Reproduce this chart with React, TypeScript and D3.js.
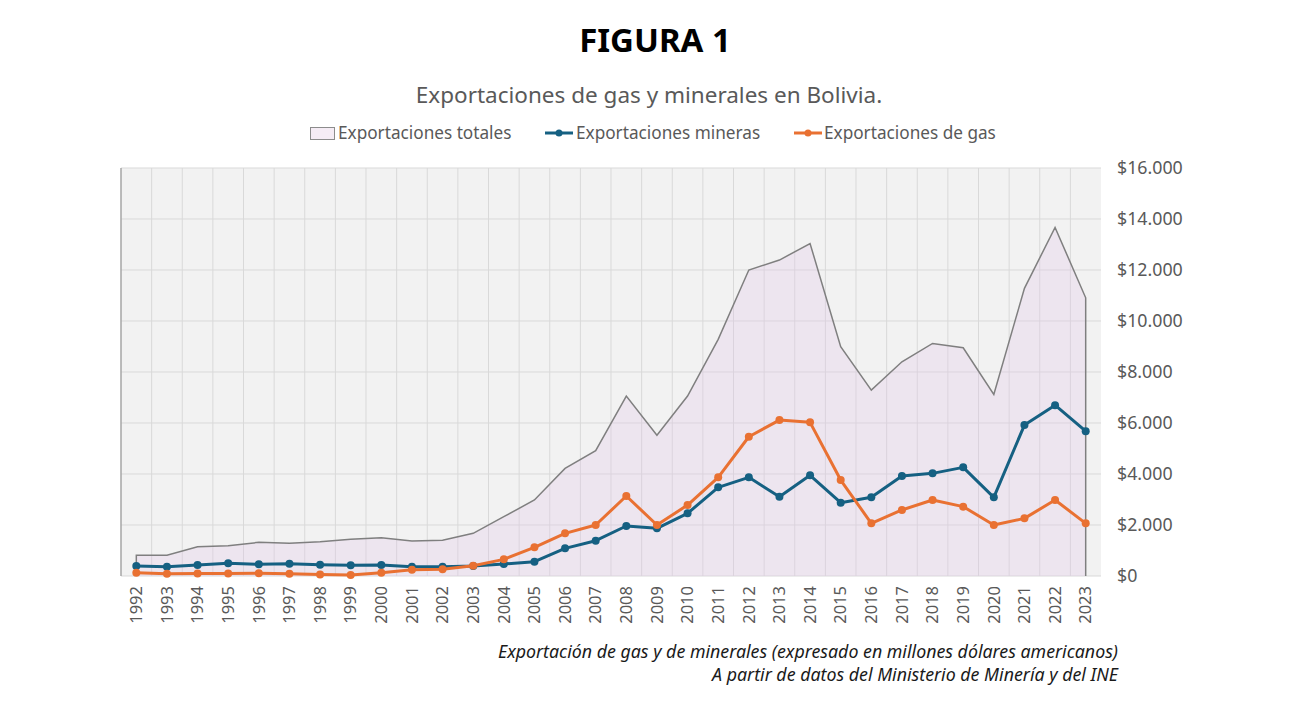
import React from "react";
import * as d3 from "d3";

const years: string[] = [
  "1992","1993","1994","1995","1996","1997","1998","1999","2000","2001","2002","2003",
  "2004","2005","2006","2007","2008","2009","2010","2011","2012","2013","2014","2015",
  "2016","2017","2018","2019","2020","2021","2022","2023",
];

const totalExports: number[] = [
  810, 810, 1150, 1190, 1320, 1280, 1345, 1437, 1503, 1372, 1400, 1673,
  2325, 2980, 4220, 4913, 7056, 5520, 7056, 9280, 12000, 12390, 13040, 8990,
  7290, 8400, 9120, 8950, 7120, 11280, 13670, 10910,
];

const miningExports: number[] = [
  392, 366, 431, 497, 457, 483, 444, 418, 431, 366, 366, 392,
  470, 562, 1085, 1385, 1960, 1870, 2457, 3477, 3869, 3110, 3947, 2874,
  3085, 3920, 4025, 4260, 3085, 5920, 6700, 5680,
];

const gasExports: number[] = [
  130, 90, 95, 100, 105, 90, 55, 40, 130, 245, 261, 405,
  653, 1124, 1673, 2000, 3136, 2000, 2783, 3869, 5461, 6115, 6025, 3763,
  2065, 2590, 2980, 2720, 2000, 2260, 2980, 2065,
];

const yTicks: number[] = [0, 2000, 4000, 6000, 8000, 10000, 12000, 14000, 16000];

const legendLabels: string[] = ["Exportaciones totales", "Exportaciones mineras", "Exportaciones de gas"];

const fmt = (v: number) => "$" + d3.format(",")(v).replace(/,/g, ".");

const W = 1290;
const H = 712;
const plot = { left: 121, right: 1101, top: 168, bottom: 576 };

const BLUE = "#156082";
const ORANGE = "#E97132";
const GRAY_TEXT = "#595959";
const FONT = "'Noto Sans', 'Open Sans', sans-serif";

export default function App() {
  const x = d3.scaleBand<string>().domain(years).range([plot.left, plot.right]).padding(0);
  const cx = (i: number) => (x(years[i]) as number) + x.bandwidth() / 2;
  const y = d3.scaleLinear().domain([0, 16000]).range([plot.bottom, plot.top]);

  const area = d3
    .area<number>()
    .x((_, i) => cx(i))
    .y0(y(0))
    .y1((d) => y(d));

  const line = d3
    .line<number>()
    .x((_, i) => cx(i))
    .y((d) => y(d));

  const boundaries = years.slice(1).map((yr) => x(yr) as number);

  return (
    <svg
      width={W}
      height={H}
      style={{ position: "absolute", left: 0, top: 0, background: "#fff" }}
      fontFamily={FONT}
    >
      <rect x={0} y={0} width={W} height={H} fill="#fff" />
      {/* Titles */}
      <text x={655} y={52} textAnchor="middle" fontSize={33} fontWeight={700} fill="#000">
        FIGURA 1
      </text>
      <text x={649} y={103} textAnchor="middle" fontSize={22.5} fill={GRAY_TEXT}>
        Exportaciones de gas y minerales en Bolivia.
      </text>

      {/* Legend */}
      <g fontSize={17.2} fill={GRAY_TEXT}>
        <rect x={310.5} y={127.5} width={24} height={12} fill="#f5ecf5" stroke="#8c8c8c" strokeWidth={1} />
        <text x={338} y={139}>{legendLabels[0]}</text>
        <line x1={545} x2={573} y1={133} y2={133} stroke={BLUE} strokeWidth={3} />
        <circle cx={559} cy={133} r={3.5} fill={BLUE} />
        <text x={576} y={139}>{legendLabels[1]}</text>
        <line x1={794} x2={822} y1={133} y2={133} stroke={ORANGE} strokeWidth={3} />
        <circle cx={808} cy={133} r={3.5} fill={ORANGE} />
        <text x={824} y={139}>{legendLabels[2]}</text>
      </g>

      {/* Plot background */}
      <rect
        x={plot.left}
        y={plot.top}
        width={plot.right - plot.left}
        height={plot.bottom - plot.top}
        fill="#f2f2f2"
      />
      {/* Grid */}
      <g stroke="#d9d9d9" strokeWidth={1}>
        {yTicks.map((t) => (
          <line key={"h" + t} x1={plot.left} x2={plot.right} y1={y(t)} y2={y(t)} />
        ))}
        {boundaries.map((b, i) => (
          <line key={"v" + i} x1={b} x2={b} y1={plot.top} y2={plot.bottom} />
        ))}
      </g>
      <line x1={plot.left} x2={plot.left} y1={plot.top} y2={plot.bottom} stroke="#a6a6a6" strokeWidth={1.5} />

      {/* Total area */}
      <path d={area(totalExports) || ""} fill="rgba(226,196,232,0.28)" stroke="none" />
      <path
        d={
          `M${cx(0)},${y(0)}L` +
          (line(totalExports) || "").slice(1) +
          `L${cx(years.length - 1)},${y(0)}`
        }
        fill="none"
        stroke="#7f7f7f"
        strokeWidth={1.5}
      />

      {/* Mining */}
      <path d={line(miningExports) || ""} fill="none" stroke={BLUE} strokeWidth={3} strokeLinejoin="round" />
      {miningExports.map((v, i) => (
        <circle key={"m" + i} cx={cx(i)} cy={y(v)} r={4} fill={BLUE} />
      ))}
      {/* Gas */}
      <path d={line(gasExports) || ""} fill="none" stroke={ORANGE} strokeWidth={3} strokeLinejoin="round" />
      {gasExports.map((v, i) => (
        <circle key={"g" + i} cx={cx(i)} cy={y(v)} r={4} fill={ORANGE} />
      ))}

      {/* Y axis labels (right) */}
      <g fontSize={17.8} fill={GRAY_TEXT}>
        {yTicks.map((t) => (
          <text key={"yl" + t} x={1117} y={y(t)} dy="0.35em">
            {fmt(t)}
          </text>
        ))}
      </g>

      {/* X axis labels */}
      <g fontSize={16.5} fill={GRAY_TEXT}>
        {years.map((yr, i) => (
          <text
            key={"xl" + yr}
            transform={`translate(${cx(i)},${586}) rotate(-90)`}
            textAnchor="end"
            dy="0.35em"
          >
            {yr}
          </text>
        ))}
      </g>

      {/* Footer */}
      <g fontSize={17.8} fontStyle="italic" fill="#1a1a1a" textAnchor="end">
        <text x={1118} y={658}>Exportación de gas y de minerales (expresado en millones dólares americanos)</text>
        <text x={1118} y={681}>A partir de datos del Ministerio de Minería y del INE</text>
      </g>
    </svg>
  );
}
